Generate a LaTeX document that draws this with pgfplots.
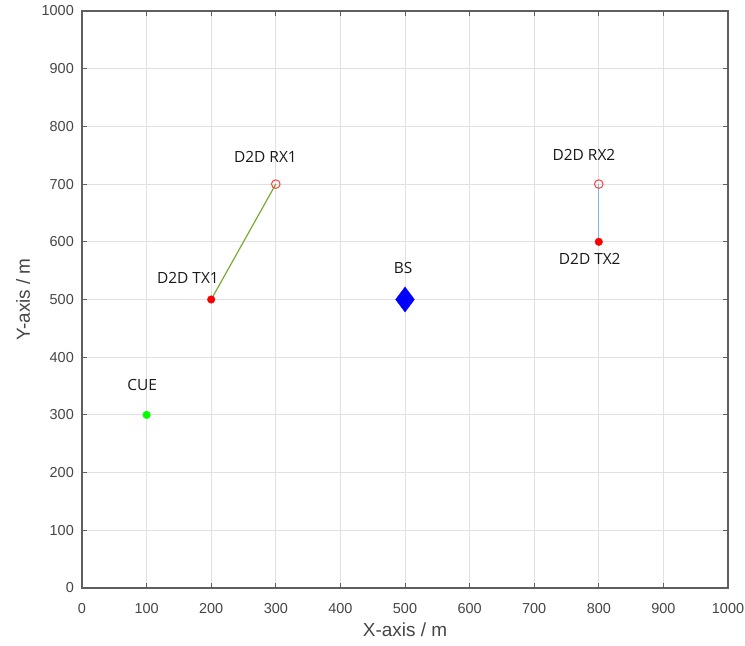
\documentclass[border=0pt]{standalone}
\usepackage{pgfplots}
\pgfplotsset{compat=1.18}
\usetikzlibrary{calc}
\usepackage{fontspec}
\setmainfont{Liberation Sans}
\newfontfamily\lblfont{Open Sans}
\definecolor{gridc}{RGB}{225,225,225}
\definecolor{framec}{RGB}{95,95,95}
\definecolor{tickc}{RGB}{70,70,70}
\definecolor{lgreen}{RGB}{119,172,48}
\definecolor{lblue}{RGB}{110,190,230}
\begin{document}
\begin{tikzpicture}
\begin{axis}[
  name=ax,
  scale only axis,
  width=646bp, height=577bp,
  xmin=0, xmax=1000, ymin=0, ymax=1000,
  xtick={0,100,...,1000}, ytick={0,100,...,1000},
  grid=major,
  major grid style={gridc, line width=0.9pt},
  axis line style={framec, line width=1.3pt},
  tick style={framec, line width=1pt},
  tick align=inside,
  major tick length=5bp,
  tick label style={font=\fontsize{14.5}{16}\selectfont, text=tickc},
  xticklabel style={anchor=base, yshift=-25bp},
  yticklabel style={anchor=east, inner sep=0pt, xshift=-8bp},
  /pgf/number format/assume math mode=true,
  /pgf/number format/set thousands separator={},
  xlabel={X-axis / m}, ylabel={Y-axis / m},
  label style={font=\fontsize{19}{21}\selectfont, text=tickc},
  xlabel style={at={(axis description cs:0.5,-0.0728)}, anchor=center},
  ylabel style={at={(axis description cs:-0.0913,0.5)}, anchor=center},
  clip=false,
]
\addplot[lgreen, line width=1.2pt] coordinates {(200,500) (300,700)};
\addplot[lblue, line width=1.2pt] coordinates {(800,600) (800,700)};
\addplot[only marks, mark=*, mark size=3.8bp, mark options={fill=red, draw=red}] coordinates {(200,500) (800,600)};
\addplot[only marks, mark=o, mark size=4.3bp, mark options={draw=red!75!white, line width=1pt}] coordinates {(300,700) (800,700)};
\addplot[only marks, mark=*, mark size=3.8bp, mark options={fill=green, draw=green}] coordinates {(100,300)};
\addplot[only marks, mark=diamond*, mark size=12.5bp, mark options={fill=blue, draw=blue}] coordinates {(500,500)};
\begin{scope}[every node/.style={font=\lblfont\fontsize{15.5}{17}\selectfont, text=black!90, inner sep=0pt}]
\node at (axis cs:284,747) {D2D RX1};
\node at (axis cs:164,538) {D2D TX1};
\node at (axis cs:777,751) {D2D RX2};
\node at (axis cs:786,571) {D2D TX2};
\node at (axis cs:497,555) {BS};
\node at (axis cs:93,352) {CUE};
\end{scope}
\end{axis}
\pgfresetboundingbox
\path[use as bounding box] ($(ax.south west)+(-82bp,-58bp)$) rectangle ($(ax.north east)+(17bp,11bp)$);
\end{tikzpicture}
\end{document}
